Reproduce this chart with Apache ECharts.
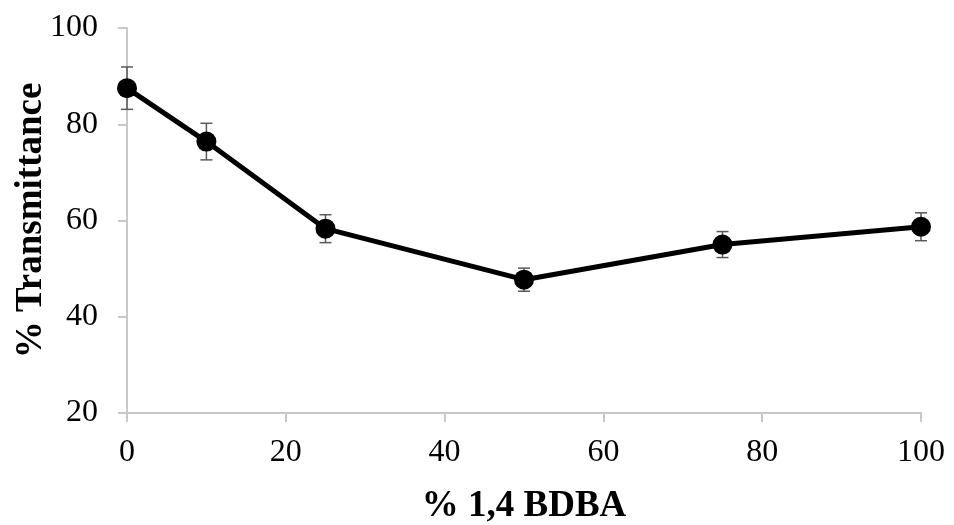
<!DOCTYPE html>
<html>
<head>
<meta charset="utf-8">
<script src="https://cdn.jsdelivr.net/npm/echarts@6/dist/echarts.min.js"></script>
<style>
  html, body { margin: 0; padding: 0; background: #fff; }
  #chart { width: 954px; height: 525px; }
</style>
</head>
<body>
<div id="chart"></div>
<script>
// % 1,4 BDBA content and measured transmittance
const bdba = [0, 10, 25, 50, 75, 100];
const transmittance = [87.5, 76.4, 58.3, 47.7, 55.0, 58.7];
const errors = [4.4, 3.8, 2.9, 2.4, 2.7, 2.9];
const xTicks = [0, 20, 40, 60, 80, 100];
const yTicks = [20, 40, 60, 80, 100];

const font = '"Liberation Serif", "Times New Roman", serif';

const points = bdba.map((x, i) => [x, transmittance[i]]);
const errData = bdba.map((x, i) => [x, transmittance[i] - errors[i], transmittance[i] + errors[i]]);

const chart = echarts.init(document.getElementById('chart'));
chart.setOption({
  animation: false,
  backgroundColor: '#fff',
  grid: { left: 127, right: 33, top: 28, bottom: 112, containLabel: false, outerBoundsMode: 'none' },
  xAxis: {
    type: 'value',
    min: xTicks[0], max: xTicks[xTicks.length - 1], interval: 20,
    name: '% 1,4 BDBA',
    nameLocation: 'middle',
    nameGap: 75,
    nameMoveOverlap: false,
    nameTextStyle: { fontFamily: font, fontSize: 37, fontWeight: 'bold', color: '#000' },
    axisLine: { show: true, lineStyle: { color: '#c8c8c8', width: 2 } },
    axisTick: { show: true, length: 9, lineStyle: { color: '#c8c8c8', width: 2 } },
    axisLabel: { fontFamily: font, fontSize: 32, color: '#000', margin: 24 },
    splitLine: { show: false }
  },
  yAxis: {
    type: 'value',
    min: yTicks[0], max: yTicks[yTicks.length - 1], interval: 20,
    name: '% Transmittance',
    nameLocation: 'middle',
    nameGap: 77,
    nameRotate: 90,
    nameMoveOverlap: false,
    nameTextStyle: { fontFamily: font, fontSize: 37, fontWeight: 'bold', color: '#000' },
    axisLine: { show: true, lineStyle: { color: '#c8c8c8', width: 2 } },
    axisTick: { show: true, length: 9, lineStyle: { color: '#c8c8c8', width: 2 } },
    axisLabel: { fontFamily: font, fontSize: 32, color: '#000', margin: 29 },
    splitLine: { show: false }
  },
  series: [
    {
      type: 'custom',
      z: 1,
      data: errData,
      renderItem: function (params, api) {
        const x = api.value(0);
        const lo = api.coord([x, api.value(1)]);
        const hi = api.coord([x, api.value(2)]);
        const w = 6;
        const style = { stroke: '#595959', lineWidth: 1.5 };
        return {
          type: 'group',
          children: [
            { type: 'line', shape: { x1: lo[0], y1: lo[1], x2: hi[0], y2: hi[1] }, style: style },
            { type: 'line', shape: { x1: lo[0] - w, y1: lo[1], x2: lo[0] + w, y2: lo[1] }, style: style },
            { type: 'line', shape: { x1: hi[0] - w, y1: hi[1], x2: hi[0] + w, y2: hi[1] }, style: style }
          ]
        };
      }
    },
    {
      type: 'line',
      z: 2,
      data: points,
      symbol: 'circle',
      symbolSize: 20,
      lineStyle: { color: '#000', width: 5 },
      itemStyle: { color: '#000' }
    }
  ]
});
</script>
</body>
</html>
